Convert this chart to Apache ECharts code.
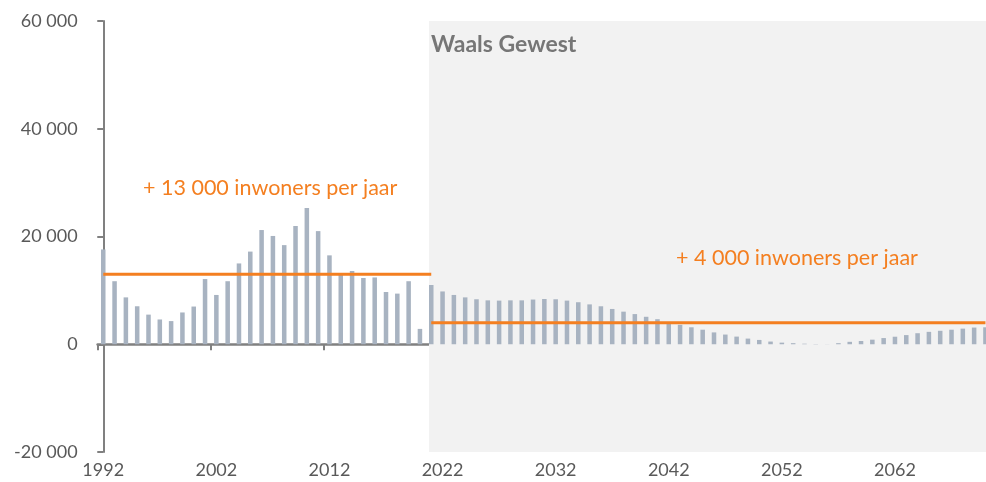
<!DOCTYPE html>
<html>
<head>
<meta charset="utf-8">
<script src="https://cdn.jsdelivr.net/npm/echarts@6/dist/echarts.min.js"></script>
<style>
  html, body { margin: 0; padding: 0; background: #fff; }
  #chart { width: 986px; height: 482px; }
</style>
</head>
<body>
<div id="chart"></div>
<script>
// jaren 1992 - 2070
const years = []
for (let y = 1992; y <= 2070; y++) years.push(String(y))

// jaarlijkse bevolkingsgroei, Waals Gewest
const growth = [
  17600, 11700, 8700, 7050, 5500, 4600, 4300, 5900, 7000, 12100,
  9150, 11700, 15000, 17200, 21200, 20100, 18400, 21950, 25300, 21000,
  16500, 13000, 13600, 12300, 12400, 9700, 9400, 11700, 2850, 11000,
  9800, 9150, 8700, 8350, 8150, 8100, 8150, 8150, 8300, 8400,
  8350, 8100, 7800, 7400, 7050, 6550, 6050, 5600, 5100, 4650,
  4100, 3600, 3150, 2700, 2200, 1800, 1420, 1050, 800, 500,
  300, 200, 100, 50, 20, 200, 450, 600, 850, 1150,
  1400, 1700, 2050, 2300, 2500, 2700, 2900, 3100, 3150
]

// gemiddelden per periode
const avgPast = 13000      // 1992 - 2021
const avgFuture = 4000     // 2021 - 2070
const splitYear = '2021'

const yTicks = { min: -20000, max: 60000, interval: 20000 }

const splitIdx = years.indexOf(splitYear)
const pastLine = years.map((_, i) => (i <= splitIdx ? avgPast : null))
const futureLine = years.map((_, i) => (i >= splitIdx ? avgFuture : null))

const orange = '#f47f20'
const axisGrey = '#808080'
const labelGrey = '#595959'
const font = 'Lato'

const fmt = v => String(v).replace(/\B(?=(\d{3})+(?!\d))/g, ' ')

const chart = echarts.init(document.getElementById('chart'))

const option = {
  backgroundColor: '#fff',
  animation: false,
  // de grafiek loopt iets voorbij de rechterrand (laatste staaf half zichtbaar)
  grid: {
    left: 97.6, top: 21, width: 893.5, height: 431,
    containLabel: false,
    outerBoundsMode: 'none'
  },
  xAxis: [
    {
      type: 'category',
      data: years,
      boundaryGap: true,
      axisLine: { onZero: true, lineStyle: { color: axisGrey, width: 2.5 } },
      axisTick: { show: true, interval: 9, length: 6, lineStyle: { color: axisGrey, width: 2 } },
      axisLabel: { show: false },
      splitLine: { show: false }
    },
    {
      type: 'category',
      data: years,
      position: 'bottom',
      boundaryGap: true,
      axisLine: { show: false, onZero: false },
      axisTick: { show: false },
      axisLabel: {
        interval: 9,
        margin: 9,
        color: labelGrey,
        fontFamily: font,
        fontSize: 18
      }
    },
    {
      type: 'value',
      show: false,
      min: -0.5,
      max: years.length - 0.5
    }
  ],
  yAxis: {
    type: 'value',
    min: yTicks.min,
    max: yTicks.max,
    interval: yTicks.interval,
    axisLine: { show: true, lineStyle: { color: axisGrey, width: 2 } },
    axisTick: { show: true, length: 6, lineStyle: { color: axisGrey, width: 2 } },
    splitLine: { show: false },
    axisLabel: {
      margin: 20,
      color: labelGrey,
      fontFamily: font,
      fontSize: 18,
      formatter: v => fmt(v)
    }
  },
  series: [
    {
      // grijze achtergrond voor de prognoseperiode
      type: 'line',
      xAxisIndex: 2,
      data: [],
      z: 0,
      silent: true,
      markArea: {
        silent: true,
        itemStyle: { color: '#f2f2f2' },
        data: [[
          { xAxis: splitIdx - 0.2, yAxis: yTicks.min },
          { xAxis: years.length - 0.5, yAxis: yTicks.max }
        ]]
      }
    },
    {
      name: 'groei',
      type: 'bar',
      xAxisIndex: 0,
      data: growth,
      barWidth: '40%',
      itemStyle: { color: '#a8b3c1' },
      z: 2
    },
    {
      type: 'line',
      xAxisIndex: 0,
      data: pastLine,
      symbol: 'none',
      lineStyle: { color: orange, width: 3 },
      z: 3
    },
    {
      type: 'line',
      xAxisIndex: 0,
      data: futureLine,
      symbol: 'none',
      lineStyle: { color: orange, width: 3 },
      z: 3
    }
  ],
  graphic: [
    {
      type: 'text',
      left: 431,
      top: 33,
      z: 100,
      style: {
        text: 'Waals Gewest',
        fill: '#767676',
        font: 'bold 23px ' + font
      }
    },
    {
      type: 'text',
      left: 143,
      top: 177,
      z: 100,
      style: {
        text: '+ 13 000 inwoners per jaar',
        fill: orange,
        font: '21.5px ' + font
      }
    },
    {
      type: 'text',
      left: 676,
      top: 247,
      z: 100,
      style: {
        text: '+ 4 000 inwoners per jaar',
        fill: orange,
        font: '21.5px ' + font
      }
    }
  ]
}

chart.setOption(option)
</script>
</body>
</html>
